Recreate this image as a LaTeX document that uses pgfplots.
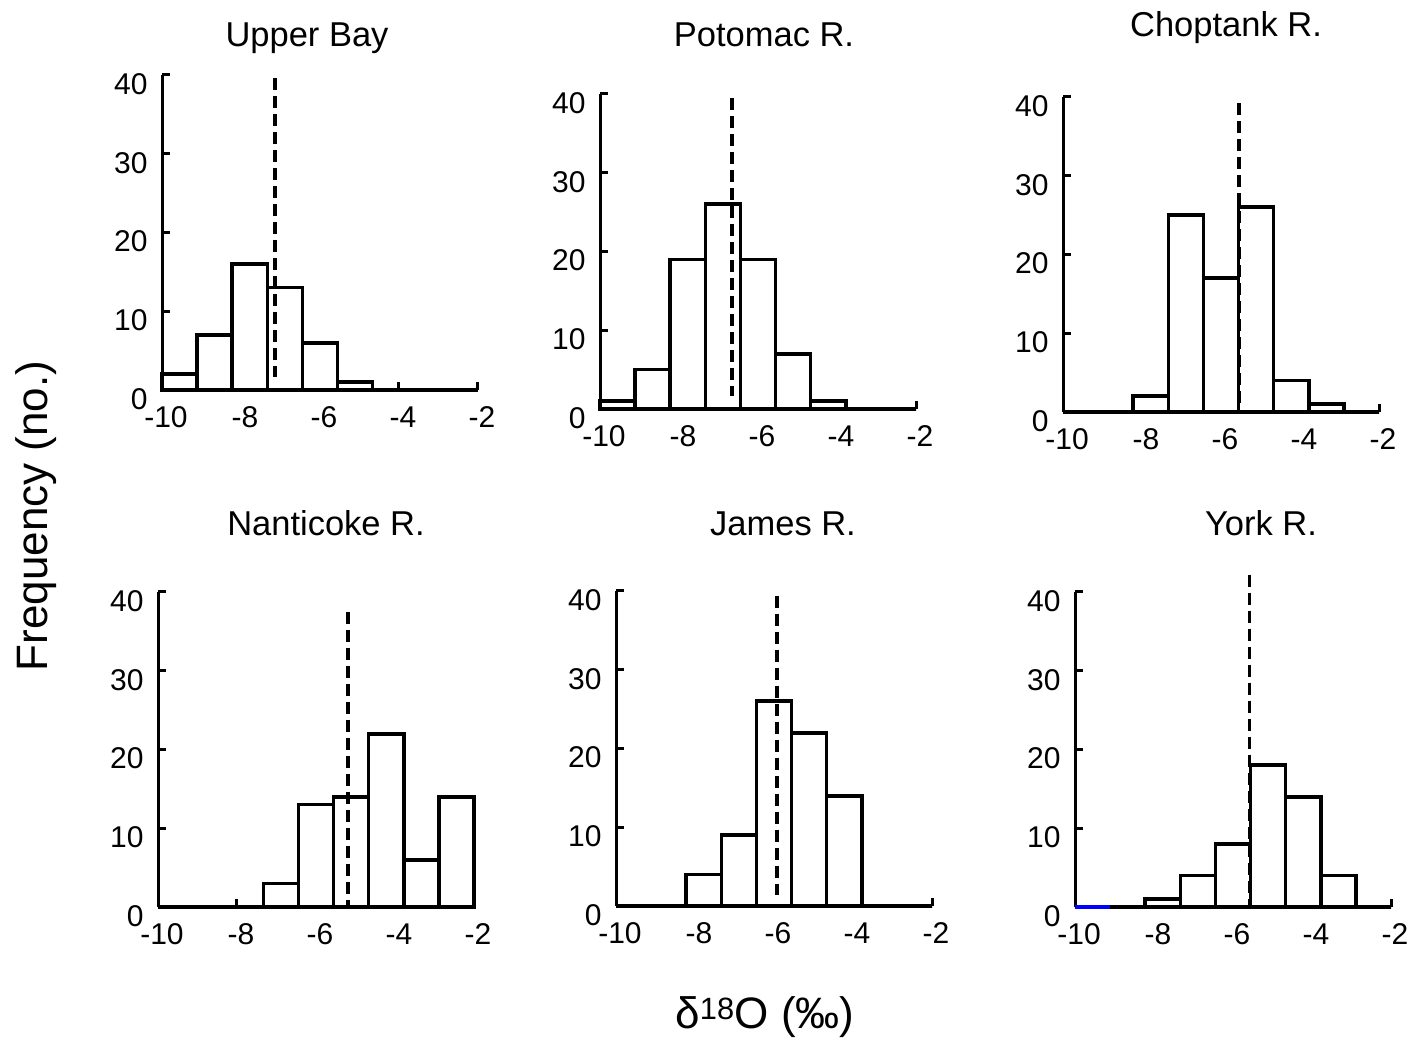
\documentclass[border=0pt]{standalone}
\usepackage{fontspec}
\setmainfont{Liberation Sans}
\usepackage{pgfplots}
\pgfplotsset{compat=1.18}
\pgfplotsset{
 hist/.style={
  scale only axis, width=316bp, height=315bp,
  xmin=-10, xmax=-2, ymin=0, ymax=40,
  axis x line*=bottom, axis y line*=left,
  axis line style={line width=3bp},
  xtick={-10,-8,-6,-4,-2}, xticklabels={-10,-8,-6,-4,-2},
  ytick={0,10,20,30,40}, yticklabels={0,10,20,30,40},
  tick align=inside, major tick length=8bp,
  every tick/.style={line width=3bp, black},
  tick label style={font=\fontsize{30bp}{34bp}\selectfont},
  xticklabel style={yshift=-13bp, xshift=4bp},
  yticklabel style={yshift=-9bp, xshift=-11bp},
  anchor=south west, clip=false,
 },
 bars/.style={ybar interval, draw=black, fill=white, line width=3.6bp},
 mean/.style={black, line width=3.8bp, dash pattern=on 12bp off 6bp},
}
\newcommand\ttl{\fontsize{34.5bp}{40bp}\selectfont}
\begin{document}
\begin{tikzpicture}
\path[use as bounding box] (0,0) rectangle (1412bp,1043bp);

% Upper Bay
\begin{axis}[hist, at={(162bp,653bp)}]
\addplot[bars] coordinates {(-10,2) (-9.1111,7) (-8.2222,16) (-7.3333,13) (-6.4444,6) (-5.5556,1) (-4.6667,0) (-3.7778,0) (-2.8889,0) (-2,0)};
\addplot[mean] coordinates {(-7.14,39.6) (-7.14,1.6)};
\end{axis}

% Potomac R.
\begin{axis}[hist, at={(600bp,634bp)}]
\addplot[bars] coordinates {(-10,1) (-9.1111,5) (-8.2222,19) (-7.3333,26) (-6.4444,19) (-5.5556,7) (-4.6667,1) (-3.7778,0) (-2.8889,0) (-2,0)};
\addplot[mean] coordinates {(-6.66,39.5) (-6.66,1.6)};
\end{axis}

% Choptank R.
\begin{axis}[hist, at={(1063bp,631bp)}]
\addplot[bars] coordinates {(-10,0) (-9.1111,0) (-8.2222,2) (-7.3333,25) (-6.4444,17) (-5.5556,26) (-4.6667,4) (-3.7778,1) (-2.8889,0) (-2,0)};
\addplot[mean] coordinates {(-5.54,39.2) (-5.54,0.5)};
\end{axis}

% Nanticoke R.
\begin{axis}[hist, at={(158bp,136bp)}]
\addplot[bars] coordinates {(-10,0) (-9.1111,0) (-8.2222,0) (-7.3333,3) (-6.4444,13) (-5.5556,14) (-4.6667,22) (-3.7778,6) (-2.8889,14) (-2,0)};
\addplot[mean] coordinates {(-5.18,37.5) (-5.18,0.3)};
\end{axis}

% James R.
\begin{axis}[hist, at={(616bp,137bp)}]
\addplot[bars] coordinates {(-10,0) (-9.1111,0) (-8.2222,4) (-7.3333,9) (-6.4444,26) (-5.5556,22) (-4.6667,14) (-3.7778,0) (-2.8889,0) (-2,0)};
\addplot[mean] coordinates {(-5.92,39.4) (-5.92,1.4)};
\end{axis}

% York R.
\begin{axis}[hist, at={(1075bp,136bp)}]
\addplot[bars] coordinates {(-10,0) (-9.1111,0) (-8.2222,1) (-7.3333,4) (-6.4444,8) (-5.5556,18) (-4.6667,14) (-3.7778,4) (-2.8889,0) (-2,0)};
\addplot[blue, line width=3.6bp] coordinates {(-10,0) (-9.1111,0)};
\addplot[mean] coordinates {(-5.58,42.2) (-5.58,0.2)};
\end{axis}

\node[anchor=base, inner sep=0pt] at (307bp,996bp) {\ttl Upper Bay};
\node[anchor=base, inner sep=0pt] at (764bp,996bp) {\ttl Potomac R.};
\node[anchor=base, inner sep=0pt] at (1226bp,1006bp) {\ttl Choptank R.};
\node[anchor=base, inner sep=0pt] at (326bp,507bp) {\ttl Nanticoke R.};
\node[anchor=base, inner sep=0pt] at (783bp,507bp) {\ttl James R.};
\node[anchor=base, inner sep=0pt] at (1261bp,507bp) {\ttl York R.};

\node[anchor=base, inner sep=0pt, rotate=90] at (47bp,527bp) {\fontsize{44bp}{50bp}\selectfont Frequency (no.)};
\node[anchor=base, inner sep=0pt] at (765bp,15bp) {\fontsize{44bp}{50bp}\selectfont δ\textsuperscript{18}O (‰)};
\end{tikzpicture}
\end{document}
